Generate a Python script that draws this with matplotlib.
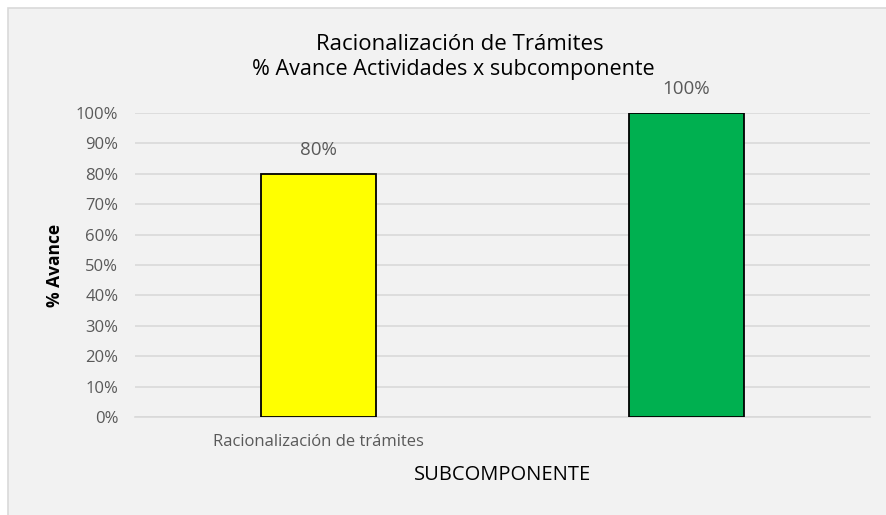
import matplotlib.pyplot as plt
from matplotlib.patches import Rectangle

# datos
categorias = ["Racionalización de trámites", ""]
avance = [0.80, 1.00]
colores = ["#ffff00", "#00b050"]
etiquetas = ["80%", "100%"]
ticks_y = [0, 0.1, 0.2, 0.3, 0.4, 0.5, 0.6, 0.7, 0.8, 0.9, 1.0]

plt.rcParams['font.family'] = ['Open Sans', 'DejaVu Sans']

W, H = 886, 515
fig = plt.figure(figsize=(W / 100, H / 100), dpi=100)
fig.patch.set_facecolor("white")

# marco gris del grafico
fig.add_artist(Rectangle((8 / W, -0.05), 1.1, 1 - 8 / H + 0.05,
                         transform=fig.transFigure, facecolor="#f2f2f2",
                         edgecolor="#d9d9d9", linewidth=1.2, zorder=0))

ax = fig.add_axes([135 / W, 1 - 417 / H, (870 - 135) / W, (417 - 113) / H])
ax.set_facecolor("none")

x = range(len(categorias))
ax.bar(x, avance, width=0.313, color=colores, edgecolor="black", linewidth=1.3, zorder=3)
for i, v in enumerate(avance):
    ax.text(i, v + 0.05, etiquetas[i], ha="center", va="bottom", fontsize=13.5,
            color="#595959", clip_on=False)

ax.set_xlim(-0.5, 1.5)
ax.set_ylim(0, 1.0)
ax.set_yticks(ticks_y)
ax.set_yticklabels(["{:.0f}%".format(t * 100) for t in ticks_y])
ax.set_xticks(list(x))
ax.set_xticklabels(categorias)
ax.tick_params(axis="both", length=0, labelsize=12, colors="#595959")
ax.tick_params(axis="y", pad=12)
ax.tick_params(axis="x", pad=12)
ax.grid(axis="y", color="#d9d9d9", linewidth=1.2, zorder=0)
for s in ["top", "right", "left"]:
    ax.spines[s].set_visible(False)
ax.spines["bottom"].set_color("#d9d9d9")
ax.spines["bottom"].set_linewidth(1.2)

ax.set_xlabel("SUBCOMPONENTE", fontsize=14.5, color="black", labelpad=11)
fig.text(55 / W, 1 - 265 / H, "% Avance", rotation=90, ha="center", va="center",
         fontsize=12.5, fontweight="bold", color="black")

fig.text(460 / W, 1 - 44 / H, "Racionalización de Trámites", ha="center", va="center",
         fontsize=16, color="black")
fig.text(453 / W, 1 - 69 / H, "% Avance Actividades x subcomponente", ha="center",
         va="center", fontsize=15.5, color="black")

fig.savefig("out.png", dpi=100)
